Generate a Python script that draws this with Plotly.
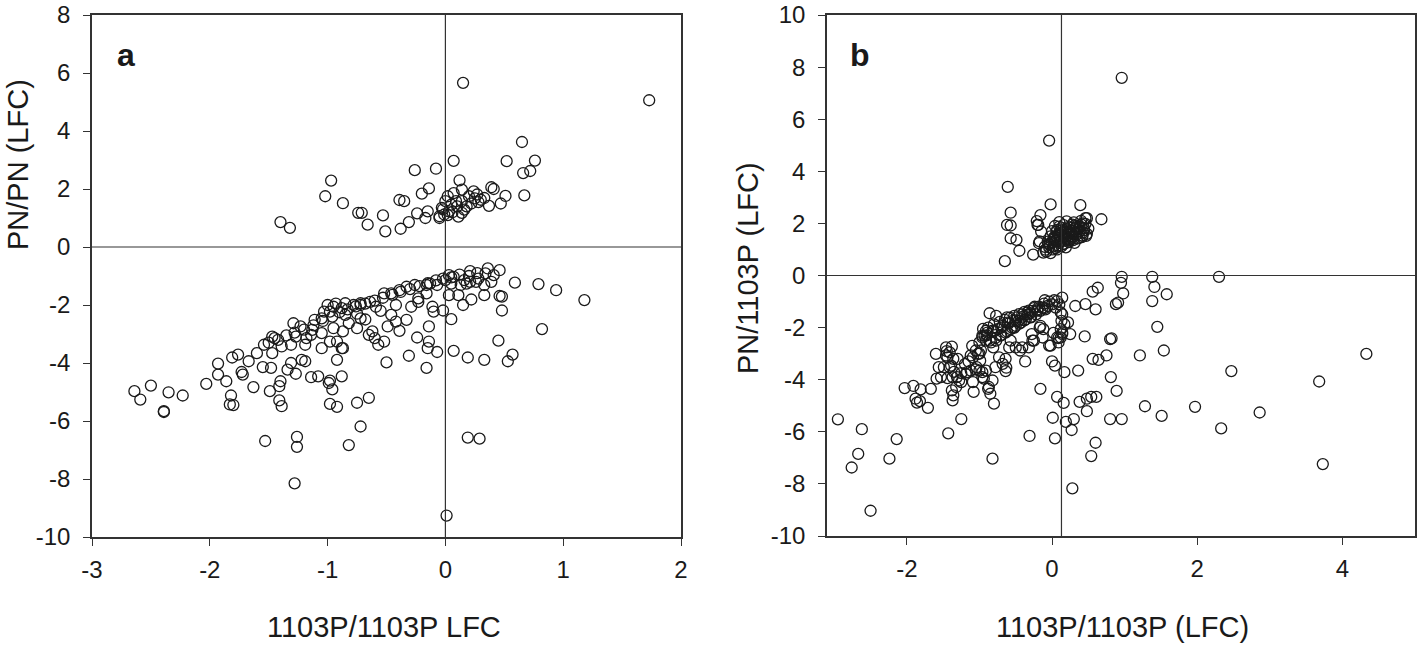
import plotly.graph_objects as go

# ---------------- Panel a data ----------------
a_up_x = [0.15, 1.73, 0.65, 0.52, 0.76, 0.66, 0.72, 0.67, 0.07, -0.08, -0.26, -0.97, -1.02, -0.87,
          -0.39, -0.35, -0.2, -0.14, -0.74, -0.71, -0.53, -0.66, -0.51, -0.38, -0.31, -0.24, -0.15,
          -0.17, -1.40, -1.32, 0.12, 0.39, 0.41, 0.51, 0.47, 0.37, 0.14, 0.07, 0.02, 0.0, -0.03,
          -0.05, -0.01, 0.03, 0.05, 0.09, 0.14, 0.16, 0.14, 0.2, 0.24, 0.27, 0.3, 0.33, 0.02, -0.02,
          0.1, 0.22, 0.06, 0.18, 0.28, -0.05, 0.11, 0.25]
a_up_y = [5.66, 5.06, 3.62, 2.96, 2.98, 2.55, 2.62, 1.78, 2.97, 2.7, 2.65, 2.29, 1.75, 1.51,
          1.62, 1.58, 1.84, 2.02, 1.18, 1.18, 1.09, 0.77, 0.54, 0.63, 0.86, 1.16, 1.23,
          1.0, 0.86, 0.66, 2.3, 2.06, 2.0, 1.76, 1.5, 1.42, 1.98, 1.86, 1.75, 1.58, 1.35,
          1.06, 1.12, 1.23, 1.46, 1.58, 1.58, 1.29, 1.18, 1.75, 1.92, 1.81, 1.63, 1.69, 1.1, 1.3,
          1.4, 1.5, 1.2, 1.4, 1.55, 1.0, 1.05, 1.68]

a_lo_x = [-2.64, -2.59, -2.5, -2.35, -2.23, -2.39, -2.39, -2.03, -1.93, -1.93, -1.86, -1.82, -1.83,
          -1.8, -1.73, -1.72, -1.63, -1.55, -1.48, -1.49, -1.41, -1.4, -1.41, -1.39, -1.53, -1.26,
          -1.26, -1.28, -1.27, -1.34, -1.14, -1.08, -0.98, -0.96, -0.99, -0.88, -0.98, -0.92, -0.75,
          -0.65, -0.72, -0.82, -0.92, -0.87, -0.5, -0.31, -0.16, -0.24, -0.14, -0.14, -0.15, -0.07,
          0.01, 0.07, 0.19, 0.33, 0.45, 0.57, 0.53, 0.19, 0.29, 0.82, 1.18, 0.94, 0.79, 0.59, 0.48,
          0.46, 0.48, 0.05, -0.02, 0.15, 0.22, 0.33, 0.46, 0.36, 0.21, 0.41, 0.03, -0.02, 0.03, 0.05,
          0.13, 0.18, 0.26, -0.13, -0.16, -0.11, -0.1, -0.33, -0.39, -0.49, -0.52, -0.57, -0.6,
          -0.65, -0.23, -0.26, -0.33, -0.39, -0.46, -0.52, -0.64, -0.72, -0.78, -0.85, -0.88, -0.95,
          -1.03, -1.05, -0.95, -1.11, -1.13, -1.05, -1.19, -1.27, -1.29, -1.23, -1.31, -1.19, -1.22,
          -1.31, -1.39, -1.47, -1.45, -1.54, -1.47, -1.6, -1.67, -1.76, -1.81, -0.72, -0.75, -0.82,
          -0.87, -0.92, -0.88, -0.98, -0.62, -0.72, -0.59, -0.46, -0.42, -0.29, -0.23, -0.16, -0.07,
          0.0, 0.07, 0.16, 0.28, 0.34, 0.21, 0.11, 0.39, 0.33, -0.85, -0.98, -1.05, -1.14, -1.18,
          -1.5, -1.42, -1.35, -1.28, -1.2, -1.12, -1.04, -0.96, -0.9, -0.83, -0.76, -0.68, -0.6,
          -0.53, -0.45, -0.38, -0.3, -0.22, -0.15, -0.08, 0.05, 0.12, 0.2, 0.27, -1.0, -0.93,
          -0.75, -0.68, -0.55, -0.42]
a_lo_y = [-4.97, -5.26, -4.78, -5.01, -5.12, -5.69, -5.66, -4.72, -4.02, -4.4, -4.63, -5.12, -5.43,
          -5.45, -4.31, -4.4, -4.83, -4.14, -4.17, -4.97, -4.8, -4.63, -5.29, -5.49, -6.69, -6.55,
          -6.89, -8.15, -4.37, -4.23, -4.49, -4.46, -4.61, -4.91, -4.69, -4.46, -5.41, -5.51, -5.37,
          -5.2, -6.19, -6.83, -3.89, -3.49, -3.98, -3.75, -4.17, -3.12, -2.74, -3.26, -3.49, -3.62,
          -9.26, -3.58, -3.81, -3.89, -3.23, -3.71, -3.94, -6.57, -6.61, -2.83, -1.83, -1.49, -1.28,
          -1.23, -1.71, -1.69, -2.19, -2.49, -2.19, -2.0, -1.81, -1.66, -0.8, -0.74, -0.83, -0.97,
          -0.97, -1.09, -1.66, -1.26, -1.31, -1.26, -1.2, -1.26, -1.6, -2.06, -2.23, -2.51, -2.89,
          -2.74, -3.26, -3.37, -3.14, -3.03, -1.89, -1.31, -1.37, -1.49, -1.6, -1.6, -1.89, -1.94,
          -2.0, -1.94, -2.11, -2.06, -2.23, -2.46, -2.8, -2.51, -2.86, -3.49, -3.37, -3.09, -2.63,
          -2.74, -3.37, -3.94, -3.89, -4.0, -3.43, -3.09, -3.14, -3.37, -3.66, -3.66, -3.94, -3.71,
          -3.81, -2.46, -2.8, -2.63, -2.91, -3.26, -3.49, -3.26, -2.91, -2.0, -2.06, -2.34, -2.57,
          -2.06, -1.77, -1.31, -1.31, -1.14, -1.03, -1.14, -1.09, -0.91, -1.2, -1.66, -1.2, -1.31,
          -2.34, -2.23, -2.97, -3.03, -3.14,
          -3.3, -3.2, -3.05, -2.95, -2.85, -2.7, -2.55, -2.4, -2.25, -2.15, -2.05, -1.95, -1.85,
          -1.75, -1.65, -1.55, -1.45, -1.35, -1.25, -1.15, -1.05, -0.95, -1.0, -0.9, -2.0, -1.95,
          -2.3, -2.5, -2.2, -2.0]

# ---------------- Panel b data ----------------
b_up_x = [0.96, -0.04, -0.61, -0.02, 0.39, 0.68, 0.48, -0.57, -0.62, -0.57, -0.57, -0.49, -0.45,
          -0.65, -0.26, -0.16, -0.2, -0.15, -0.17, -0.09, -0.21, -0.19, -0.18, 0.46,
          -0.12, -0.08, -0.02, -0.1, -0.04, 0.02, 0.08, -0.06, 0.0, 0.06, 0.12, 0.18, 0.25,
          -0.02, 0.04, 0.1, 0.16, 0.22, 0.28, 0.34, 0.42, 0.48, 0.0, 0.06, 0.12, 0.18, 0.24,
          0.3, 0.36, 0.44, 0.5, 0.04, 0.1, 0.16, 0.22, 0.28, 0.34, 0.4, 0.46, 0.1, 0.2, 0.3,
          0.4, 0.03, 0.09, 0.15, 0.21, 0.27, 0.33, 0.38, -0.05, 0.07, 0.19, 0.31, 0.43,
          0.01, 0.05, 0.13, 0.17, 0.23, 0.29, 0.35, 0.41, 0.47, 0.02, 0.08, 0.14, 0.2, 0.26,
          0.32, 0.38, 0.44, 0.07, 0.13, 0.19, 0.25, 0.31, 0.37, 0.43, -0.03, 0.04, 0.1, 0.16,
          0.22, 0.28]
b_up_y = [7.59, 5.18, 3.4, 2.73, 2.7, 2.16, 2.2, 2.41, 1.94, 1.92, 1.43, 1.37, 0.95,
          0.55, 0.8, 2.32, 1.94, 1.69, 1.31, 0.99, 2.09, 1.94, 1.24, 2.2,
          0.88, 0.92, 0.86, 1.1, 1.08, 1.12, 1.15, 1.3, 1.28, 1.33, 1.3, 1.35, 1.38,
          1.5, 1.48, 1.52, 1.47, 1.55, 1.5, 1.58, 1.53, 1.6, 1.7, 1.68, 1.72, 1.66, 1.74,
          1.7, 1.77, 1.73, 1.8, 1.9, 1.88, 1.93, 1.86, 1.95, 1.9, 1.96, 1.98, 2.05, 2.08, 2.04,
          2.1, 1.4, 1.6, 1.2, 1.42, 1.62, 1.84, 1.45, 1.2, 1.0, 1.08, 1.25, 1.65,
          1.0, 1.05, 1.12, 1.22, 1.28, 1.36, 1.42, 1.47, 1.52, 1.45, 1.55, 1.64, 1.6, 1.72,
          1.62, 1.7, 1.82, 1.75, 1.82, 1.78, 1.85, 1.92, 1.86, 2.0, 1.2, 1.32, 1.25, 1.5,
          1.38, 1.45]

b_lo_x = [-2.95, -2.62, -2.67, -2.76, -2.5, -2.24, -2.14, -2.03, -1.91, -1.81, -1.88, -1.86, -1.82,
          -1.71, -1.67, -1.59, -1.56, -1.49, -1.46, -1.41, -1.38, -1.36, -1.44, -1.38, -1.37, -1.36,
          -1.25, -1.43, -1.31, -1.25, -1.17, -1.12, -1.09, -1.08, -1.04, -0.99, -0.96, -0.94, -1.02,
          -0.88, -0.85, -0.8, -0.82, -0.96, -0.91, -0.86, -0.81, -0.78, -0.73, -0.63, -0.64, -0.59,
          -0.57, -0.52, -0.62, -0.44, -0.41, -0.37, -0.46, -0.33, -0.28, -0.25, -0.17, -0.12, -0.16,
          -0.31, -0.02, 0.04, 0.01, 0.04, 0.07, 0.09, 0.12, 0.14, 0.17, 0.22, 0.25, 0.14, 0.17, 0.16,
          0.19, 0.27, 0.3, 0.28, 0.32, 0.36, 0.38, 0.46, 0.45, 0.48, 0.48, 0.54, 0.61, 0.54, 0.6,
          0.56, 0.63, 0.6, 0.56, 0.64, 0.75, 0.8, 0.82, 0.81, 0.89, 0.8, 0.96, 0.88, 0.91, 0.98, 0.95,
          0.96, 1.21, 1.28, 1.38, 1.41, 1.38, 1.45, 1.58, 1.54, 1.51, 1.97, 2.3, 2.33, 2.47, 2.86,
          3.68, 3.73, 4.33,
          0.14, 0.07, 0.0, -0.06, -0.13, -0.2, -0.27, -0.34, -0.41, -0.48, -0.54, -0.61, -0.68,
          -0.75, -0.82, -0.89, -0.93, -0.96, -0.91, -0.84, -0.77, -0.71, -0.64, -0.57, -0.5, -0.43,
          -0.36, -0.29, -0.22, -0.16, -0.09, 0.05, 0.1, 0.12, 0.13, 0.12, 0.14, 0.07, -0.04, -0.16,
          -0.13, -0.27, -0.32, -0.5, -0.64, -0.68, -0.91, -0.96, -1.0, -1.09, -1.12, -1.19, -1.28,
          -1.32, -1.37, -1.41, -1.44, -1.46, -1.39, -1.53, -1.6, -1.05, -1.0, -0.98, -0.82, -0.87,
          -0.77, -0.3, -0.38, -0.45, -0.55, -0.62, -0.7, -0.78, -0.86, -0.24, -0.1, 0.02,
          -0.95, -0.88, -0.8, -0.72, -0.65, -0.58, -0.52, -0.45, -0.38, -0.32, -0.25, -0.18, -0.11,
          -0.04, 0.03, 0.09, -0.9, -0.8, -0.7, -0.6, -0.5, -0.4, -0.3, -0.2, -0.1, 0.0,
          -1.3, -1.2, -1.15, -1.05, -1.25, -1.35, -1.45, -1.1, -1.0, -1.18]
b_lo_y = [-5.52, -5.9, -6.85, -7.37, -9.03, -7.03, -6.28, -4.32, -4.24, -4.37, -4.73, -4.88, -4.82,
          -5.08, -4.35, -3.96, -3.52, -3.52, -3.07, -2.95, -2.73, -3.2, -3.94, -4.41, -4.79, -4.6,
          -5.51, -6.06, -3.9, -4.09, -3.71, -3.07, -4.09, -4.47, -3.52, -3.27, -3.71, -3.96, -3.01,
          -4.35, -4.54, -4.92, -7.03, -2.31, -2.12, -2.5, -2.76, -3.52, -3.14, -3.54, -3.67, -2.76,
          -2.5, -2.0, -1.61, -2.88, -2.76, -3.3, -1.74, -1.49, -2.25, -2.5, -2.0, -2.06, -4.35,
          -6.16, -2.69, -3.46, -5.46, -6.25, -4.66, -2.57, -2.38, -2.19, -1.87, -1.8, -2.25, -1.49,
          -3.71, -4.89, -5.62, -5.93, -5.51, -8.17, -1.17, -3.65, -4.85, -1.1, -2.34, -5.21, -4.73,
          -4.66, -4.66, -6.93, -6.42, -0.62, -0.47, -1.3, -3.2, -3.24, -3.07, -2.44, -2.41, -3.9,
          -4.43, -5.51, -5.51, -1.1, -1.04, -0.69, -0.28, -0.05, -3.07, -5.02, -0.05, -0.44, -0.98,
          -1.97, -0.72, -2.88, -5.39, -5.04, -0.05, -5.87, -3.67, -5.26, -4.07, -7.24, -3.01,
          -0.85, -0.98, -1.11, -1.17, -1.23, -1.3, -1.36, -1.42, -1.49, -1.61, -1.74, -1.81, -1.93,
          -2.06, -2.12, -2.19, -2.31, -2.38, -2.5, -2.57, -2.5, -2.31, -2.19, -2.06, -1.93, -1.81,
          -1.68, -1.61, -1.49, -1.36, -1.3, -1.23, -1.11, -1.42, -1.74, -2.06, -2.25, -2.38, -2.69,
          -1.93, -2.38, -2.5, -2.76, -2.76, -3.2, -3.39, -3.65, -3.9, -3.65, -3.14, -3.65, -3.78,
          -4.03, -4.28, -3.9, -3.52, -3.14, -2.76, -3.46, -3.9, -3.01, -2.88, -2.57, -2.88, -4.03,
          -4.28, -1.55, -1.6, -1.72, -1.85, -2.0, -2.15, -2.28, -2.4, -1.45, -1.2, -0.95,
          -2.2, -2.05, -2.0, -1.88, -1.78, -1.7, -1.62, -1.55, -1.48, -1.4, -1.35, -1.25, -1.2,
          -1.08, -1.0, -0.95, -2.4, -2.3, -2.15, -2.0, -1.85, -1.72, -1.58, -1.45, -1.35, -1.25,
          -3.3, -3.2, -3.4, -3.3, -3.6, -3.75, -3.7, -2.9, -2.7, -3.0]

# tick values / labels
a_xticks = [-3, -2, -1, 0, 1, 2]
a_yticks = [-10, -8, -6, -4, -2, 0, 2, 4, 6, 8]
b_xticks = [-2, 0, 2, 4]
b_yticks = [-10, -8, -6, -4, -2, 0, 2, 4, 6, 8, 10]

# reference lines
a_vline_x = 0.0
a_hline_y = 0.0
b_vline_x = 0.13
b_hline_y = 0.0

FONT = "Arial, Liberation Sans, Helvetica, sans-serif"
INK = "#1a1a1a"
LINE = "#333333"

marker = dict(symbol="circle-open", size=11, color=INK, line=dict(width=1.3, color=INK))

fig = go.Figure()
fig.add_trace(go.Scatter(x=a_up_x + a_lo_x, y=a_up_y + a_lo_y, mode="markers",
                         marker=marker, xaxis="x", yaxis="y", showlegend=False))
fig.add_trace(go.Scatter(x=b_up_x + b_lo_x, y=b_up_y + b_lo_y, mode="markers",
                         marker=marker, xaxis="x2", yaxis="y2", showlegend=False))

axis_common = dict(showline=True, mirror=True, linecolor=LINE, linewidth=1.6,
                   ticks="outside", ticklen=7, tickwidth=1.2, tickcolor=LINE,
                   showgrid=False, zeroline=False, automargin=False,
                   ticklabeloverflow="allow",
                   tickfont=dict(family=FONT, size=24, color=INK))


def labels(vals):
    return [str(v) for v in vals]  # plain hyphen-minus like the original


def note(text, x, y, size, angle=0, bold=False):
    return dict(text=f"<b>{text}</b>" if bold else text, xref="paper", yref="paper",
                x=x / 1418, y=1 - y / 647, xanchor="center", yanchor="middle",
                textangle=angle, showarrow=False,
                font=dict(family=FONT, size=size, color=INK))


TOP = 15  # px from top of the page to the top frame line

fig.update_layout(
    template="none",
    width=1418, height=647,
    margin=dict(l=0, r=0, t=0, b=0, pad=0),
    paper_bgcolor="white", plot_bgcolor="white",
    font=dict(family=FONT, color=INK),
    xaxis=dict(domain=[92/1418, 681/1418], range=[-3, 2], tickvals=a_xticks,
               ticktext=labels(a_xticks), anchor="y", ticklabelstandoff=3, **axis_common),
    yaxis=dict(domain=[1-537/647, 1-TOP/647], range=[-10, 8], tickvals=a_yticks,
               ticktext=labels(a_yticks), anchor="x", ticklabelstandoff=8, **axis_common),
    xaxis2=dict(domain=[827/1418, 1415/1418], range=[-3.1, 5.0], tickvals=b_xticks,
                ticktext=labels(b_xticks), anchor="y2", ticklabelstandoff=3, **axis_common),
    yaxis2=dict(domain=[1-536/647, 1-TOP/647], range=[-10, 10], tickvals=b_yticks,
                ticktext=labels(b_yticks), anchor="x2", ticklabelstandoff=8, **axis_common),
    shapes=[
        dict(type="line", xref="x", yref="y domain", x0=a_vline_x, x1=a_vline_x, y0=0, y1=1,
             line=dict(color=LINE, width=1.2)),
        dict(type="line", xref="x domain", yref="y", x0=0, x1=1, y0=a_hline_y, y1=a_hline_y,
             line=dict(color=LINE, width=1.2)),
        dict(type="line", xref="x2", yref="y2 domain", x0=b_vline_x, x1=b_vline_x, y0=0, y1=1,
             line=dict(color=LINE, width=1.2)),
        dict(type="line", xref="x2 domain", yref="y2", x0=0, x1=1, y0=b_hline_y, y1=b_hline_y,
             line=dict(color=LINE, width=1.2)),
    ],
    annotations=[
        note("a", 126, 55, 32, bold=True),
        note("b", 860, 55, 32, bold=True),
        note("1103P/1103P LFC", 384, 627, 29),
        note("1103P/1103P (LFC)", 1122, 627, 29),
        note("PN/PN (LFC)", 18, 165, 29, angle=-90),
        note("PN/1103P (LFC)", 748, 268, 29, angle=-90),
    ],
)

fig.write_html("out.html", config={"displayModeBar": False},
               post_script="document.body.style.margin='0';")
